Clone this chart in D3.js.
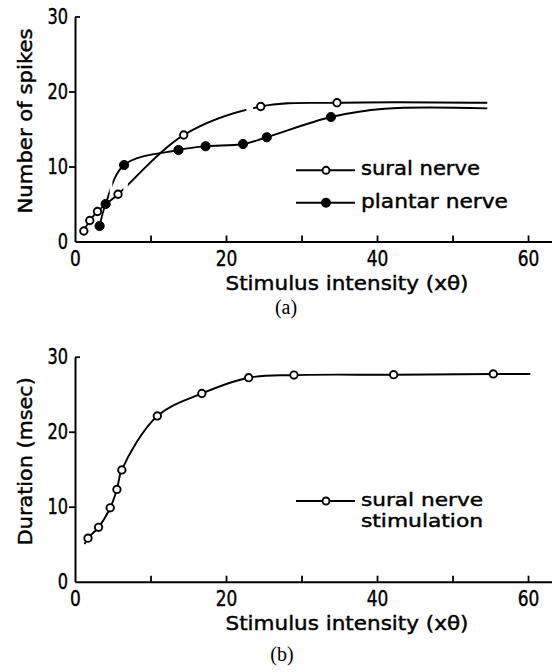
<!DOCTYPE html>
<html>
<head>
<meta charset="utf-8">
<script src="https://cdn.jsdelivr.net/npm/d3@7"></script>
<style>
  body { margin: 0; background: #fff; }
  svg { display: block; font-family: "DejaVu Sans", sans-serif; }
  .ink { stroke: #000; stroke-width: 0.45px; }
</style>
</head>
<body>
<script>
// (a) number of spikes
const suralX = [1.17, 1.96, 2.98, 5.7, 14.4, 24.6, 34.7];
const suralY = [1.4, 2.8, 4.0, 6.3, 14.2, 18.0, 18.5];
const suralTailX = [54.6];
const suralTailY = [18.5];
const suralGaps = [[6.4, 7.0], [22.7, 23.6]];

const plantarX = [3.26, 4.06, 6.5, 13.7, 17.3, 22.25, 25.4, 33.9];
const plantarY = [2.07, 5.0, 10.2, 12.2, 12.7, 13.0, 13.9, 16.6];
const plantarTailX = [41, 54.6];
const plantarTailY = [17.7, 17.75];
const plantarGaps = [[4.6, 4.95]];

// (b) duration, sural nerve stimulation
const durX = [1.72, 3.12, 4.66, 5.55, 6.2, 10.9, 16.8, 23.0, 29.0, 42.2, 55.4];
const durY = [5.8, 7.25, 9.85, 12.3, 14.9, 22.1, 25.1, 27.2, 27.55, 27.6, 27.7];
const durHeadX = [1.26], durHeadY = [5.0];
const durTailX = [60.3], durTailY = [27.7];

const xTicks = [0, 10, 20, 30, 40, 50, 60];
const yTicks = [0, 10, 20, 30];
const xTitle = "Stimulus intensity (x\u03b8)";

const W = 552, H = 672;
const svg = d3.select("body").append("svg").attr("width", W).attr("height", H);

const x = d3.scaleLinear().domain([0, 63.2]).range([75, 552.2]);
const yA = d3.scaleLinear().domain([0, 30]).range([241.5, 16.5]);
const yB = d3.scaleLinear().domain([0, 30]).range([581.7, 356.7]);

const zip = (xs, ys) => xs.map((v, i) => [v, ys[i]]);
const curve = d3.curveCatmullRom.alpha(0.5);

function axes(y, yTitle, yTitleLen) {
  const [y0, y1] = y.range();
  const gx = svg.append("g").attr("transform", `translate(0,${y0})`)
    .call(d3.axisBottom(x).tickValues(xTicks).tickSizeInner(-6).tickSizeOuter(0)
      .tickFormat(d => d % 20 === 0 ? d : ""));
  gx.select(".domain").attr("stroke-width", 2);
  gx.selectAll(".tick line").attr("stroke-width", 1.8).filter(d => d === 0).remove();
  gx.selectAll(".tick text").attr("y", 24.5).attr("dy", 0).attr("class", "ink")
    .attr("font-size", 22).attr("font-family", "DejaVu Sans")
    .attr("textLength", d => String(d).length * 10.8).attr("lengthAdjust", "spacingAndGlyphs");

  const gy = svg.append("g").attr("transform", `translate(75,0)`)
    .call(d3.axisLeft(y).tickValues(yTicks).tickSizeInner(6).tickSizeOuter(0).tickPadding(2));
  gy.select(".domain").attr("stroke-width", 2);
  gy.selectAll(".tick line").attr("stroke-width", 1.8);
  gy.selectAll(".tick line").filter(d => d === 0).remove();
  gy.selectAll(".tick line").filter(d => d === 30).attr("x2", 5);
  gy.selectAll(".tick text").attr("x", -7).attr("class", "ink")
    .attr("font-size", 22).attr("font-family", "DejaVu Sans")
    .attr("textLength", d => String(d).length * 10.3).attr("lengthAdjust", "spacingAndGlyphs");

  svg.append("text").attr("class", "ink").attr("x", 347).attr("y", y0 + 48.5)
    .attr("text-anchor", "middle").attr("font-size", 20)
    .attr("textLength", 243).attr("lengthAdjust", "spacingAndGlyphs")
    .text(xTitle);

  svg.append("text").attr("class", "ink")
    .attr("transform", `translate(32,${(y0 + y1) / 2 - 8}) rotate(-90)`)
    .attr("text-anchor", "middle").attr("font-size", 19.5)
    .attr("textLength", yTitleLen).attr("lengthAdjust", "spacingAndGlyphs")
    .text(yTitle);
}

// clip that hides the hand-drawn breaks in a line
function gapClip(id, gaps) {
  const cuts = [0, ...gaps.flat().map(x), W];
  const cp = svg.append("clipPath").attr("id", id);
  for (let i = 0; i < cuts.length; i += 2) {
    cp.append("rect").attr("x", cuts[i]).attr("y", 0)
      .attr("width", cuts[i + 1] - cuts[i]).attr("height", H);
  }
  return `url(#${id})`;
}

function series(y, pts, linePts, gaps, id, filled) {
  const line = d3.line().x(d => x(d[0])).y(d => y(d[1])).curve(curve);
  svg.append("path").datum(linePts)
    .attr("d", line).attr("fill", "none").attr("stroke", "#000").attr("stroke-width", 1.9)
    .attr("clip-path", gaps.length ? gapClip(id, gaps) : null);
  svg.append("g").selectAll("circle").data(pts).join("circle")
    .attr("cx", d => x(d[0])).attr("cy", d => y(d[1]))
    .attr("r", filled ? 4.6 : 3.7)
    .attr("fill", filled ? "#000" : "#fff")
    .attr("stroke", "#000").attr("stroke-width", filled ? 1 : 1.9);
}

function legendRow(ly, lines, len, filled, fs) {
  svg.append("line").attr("x1", 296).attr("x2", 355).attr("y1", ly).attr("y2", ly)
    .attr("stroke", "#000").attr("stroke-width", 1.9);
  svg.append("circle").attr("cx", 326).attr("cy", ly).attr("r", filled ? 4 : 3.5)
    .attr("fill", filled ? "#000" : "#fff").attr("stroke", "#000").attr("stroke-width", 1.9);
  lines.forEach((s, i) => {
    svg.append("text").attr("class", "ink").attr("font-size", fs)
      .attr("x", 361).attr("y", ly + 5 + i * 21)
      .attr("textLength", len).attr("lengthAdjust", "spacingAndGlyphs").text(s);
  });
}

// panel (a)
axes(yA, "Number of spikes", 185);
const sural = zip(suralX, suralY);
const plantar = zip(plantarX, plantarY);
series(yA, sural, sural.concat(zip(suralTailX, suralTailY)), suralGaps, "gapS", false);
series(yA, plantar, plantar.concat(zip(plantarTailX, plantarTailY)), plantarGaps, "gapP", true);
legendRow(170.3, ["sural nerve"], 119, false, 20);
legendRow(202.7, ["plantar nerve"], 147, true, 20);
svg.append("text").attr("x", 286).attr("y", 314).attr("text-anchor", "middle")
  .attr("font-family", "Liberation Serif, serif").attr("font-size", 20).text("(a)");

// panel (b)
axes(yB, "Duration (msec)", 168);
const dur = zip(durX, durY);
series(yB, dur, zip(durHeadX, durHeadY).concat(dur, zip(durTailX, durTailY)), [], "gapD", false);
legendRow(501, ["sural nerve", "stimulation"], 122, false, 18);
svg.append("text").attr("x", 282).attr("y", 661).attr("text-anchor", "middle")
  .attr("font-family", "Liberation Serif, serif").attr("font-size", 20).text("(b)");
</script>
</body>
</html>
